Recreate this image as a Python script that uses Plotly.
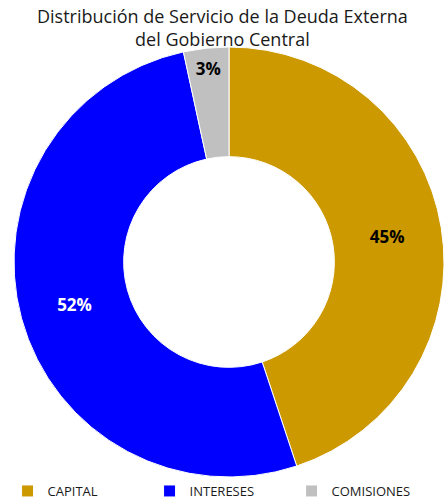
import plotly.graph_objects as go

labels = ["CAPITAL", "INTERESES", "COMISIONES"]
values = [44.9, 51.7, 3.4]
colors = ["#CC9900", "#0000FF", "#C0C0C0"]
text_colors = ["#000000", "#FFFFFF", "#000000"]
title_lines = ["Distribución de Servicio de la Deuda Externa", "del Gobierno Central"]

fig = go.Figure(go.Pie(
    labels=labels,
    values=values,
    hole=0.49,
    sort=False,
    direction="clockwise",
    rotation=0,
    marker=dict(colors=colors, line=dict(color="#FFFFFF", width=1)),
    texttemplate="<b>%{percent:.0%}</b>",
    textposition="inside",
    insidetextorientation="horizontal",
    insidetextfont=dict(color=text_colors, size=17, family="Open Sans, sans-serif"),
    domain=dict(x=[14/445, 444/445], y=[24/501, 454/501]),
    showlegend=True,
))

fig.update_layout(
    width=445, height=501,
    margin=dict(l=0, r=0, t=0, b=0, autoexpand=False),
    paper_bgcolor="white",
    annotations=[dict(
        text="<br>".join(title_lines),
        x=0.5, xref="paper", xanchor="center",
        y=0.996, yref="paper", yanchor="top",
        showarrow=False,
        font=dict(size=18, color="#1a1a1a", family="Open Sans, sans-serif", weight="normal"),
    )],
    legend=dict(
        orientation="h", x=0.017, xanchor="left", y=-0.01, yanchor="bottom",
        font=dict(size=13, color="#1a1a1a", family="Open Sans, sans-serif"),
        entrywidth=97, entrywidthmode="pixels",
        itemclick=False, bgcolor="rgba(0,0,0,0)",
    ),
)

fig.write_html("out.html", config={"displayModeBar": False},
               post_script="document.body.style.margin='0px';document.body.style.overflow='hidden';")
